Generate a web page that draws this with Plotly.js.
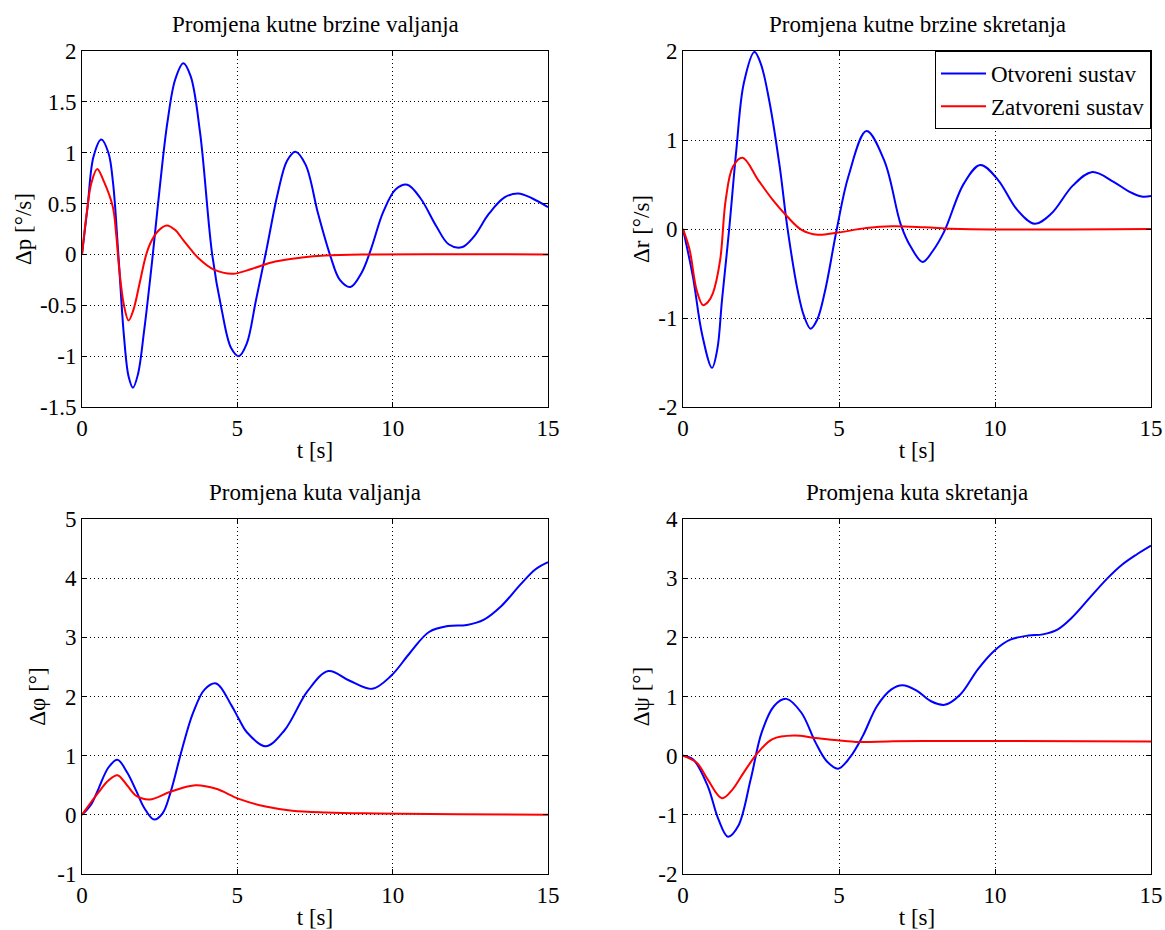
<!DOCTYPE html>
<html>
<head>
<meta charset="utf-8">
<script src="https://cdn.plot.ly/plotly-3.0.1.min.js"></script>
<style>html,body{margin:0;padding:0;background:#fff}#chart{width:1165px;height:930px}</style>
</head>
<body>
<div id="chart"></div>
<script>
// Top-left: Δp (roll rate)
const t_p_open = [0,0.18,0.37,0.62,0.85,1.0,1.17,1.35,1.5,1.64,1.8,2.0,2.28,2.5,2.75,3.0,3.26,3.5,3.8,4.19,4.5,4.8,5.05,5.3,5.6,5.94,6.3,6.6,6.87,7.2,7.6,8.0,8.3,8.64,9.0,9.3,9.7,10.1,10.47,10.9,11.4,11.8,12.22,12.6,13.1,13.6,14.04,14.5,15];
const p_open   = [0,0.47,0.96,1.13,1.0,0.7,0.0,-0.8,-1.2,-1.31,-1.18,-0.75,0.0,0.65,1.3,1.72,1.88,1.75,1.2,0.0,-0.55,-0.92,-1.0,-0.88,-0.45,0.05,0.6,0.92,1.01,0.88,0.4,-0.02,-0.25,-0.32,-0.18,0.05,0.42,0.64,0.685,0.55,0.28,0.1,0.07,0.17,0.4,0.56,0.6,0.55,0.465];
const t_p_closed = [0,0.15,0.3,0.49,0.7,0.99,1.1,1.2,1.35,1.5,1.65,1.85,2.05,2.2,2.45,2.73,3.0,3.26,3.5,3.76,4.25,4.86,5.48,6.22,7.08,7.82,9,15];
const p_closed   = [0,0.4,0.7,0.84,0.72,0.47,0.2,-0.15,-0.5,-0.65,-0.55,-0.29,-0.02,0.11,0.23,0.285,0.24,0.14,0.05,-0.04,-0.15,-0.19,-0.14,-0.07,-0.03,-0.01,0,0];

// Top-right: Δr (yaw rate)
const t_r_open = [0,0.32,0.61,0.93,1.1,1.25,1.48,1.71,1.95,2.29,2.5,2.76,3.1,3.34,3.68,3.88,4.09,4.3,4.55,4.93,5.3,5.88,6.46,6.98,7.3,7.68,8.0,8.37,9.0,9.53,10.1,10.7,11.27,11.8,12.5,13.12,13.8,14.3,14.7,15];
const r_open   = [0,-0.54,-1.18,-1.56,-1.35,-0.8,0.0,0.89,1.64,1.99,1.85,1.45,0.7,0.03,-0.7,-0.98,-1.12,-1.02,-0.7,0.0,0.59,1.1,0.76,0.05,-0.2,-0.37,-0.25,-0.03,0.51,0.72,0.55,0.22,0.06,0.17,0.49,0.64,0.53,0.42,0.365,0.37];
const t_r_closed = [0,0.21,0.44,0.64,0.8,0.96,1.19,1.37,1.6,1.91,2.41,2.87,3.34,3.8,4.32,4.96,5.88,6.7,7.74,8.9,15];
const r_closed   = [0,-0.23,-0.69,-0.855,-0.82,-0.72,-0.35,0.33,0.7,0.8,0.55,0.33,0.14,-0.01,-0.065,-0.04,0.01,0.03,0.02,0.0,0];

// Bottom-left: Δφ (roll angle)
const t_phi_open = [0,0.3,0.53,0.85,1.14,1.45,1.75,2.0,2.32,2.6,2.85,3.22,3.58,3.95,4.32,4.81,5.05,5.3,5.91,6.52,7.26,7.93,8.6,9.34,9.95,10.56,11.17,11.78,12.39,12.94,13.5,14.11,14.6,15];
const phi_open   = [0,0.18,0.44,0.8,0.93,0.72,0.4,0.12,-0.08,0.03,0.38,1.11,1.73,2.12,2.22,1.85,1.62,1.4,1.16,1.43,2.09,2.43,2.27,2.13,2.35,2.74,3.09,3.19,3.21,3.3,3.53,3.89,4.15,4.27];
const t_phi_closed = [0,0.53,0.85,1.14,1.45,1.75,2.18,2.85,3.65,4.32,5.05,5.91,6.77,7.87,9.09,10.3,12.1,15];
const phi_closed   = [0,0.38,0.58,0.67,0.5,0.32,0.26,0.39,0.5,0.44,0.27,0.14,0.07,0.04,0.025,0.02,0.01,0];

// Bottom-right: Δψ (yaw angle)
const t_psi_open = [0,0.32,0.79,1.13,1.44,1.77,2.17,2.52,2.92,3.31,3.79,4.25,4.6,4.97,5.35,5.76,6.22,6.68,7.03,7.49,7.95,8.39,8.88,9.45,9.97,10.49,11.07,11.53,12.0,12.46,13.04,13.61,14.08,14.54,15];
const psi_open   = [0,-0.06,-0.51,-1.07,-1.37,-1.19,-0.4,0.39,0.84,0.96,0.73,0.22,-0.09,-0.22,-0.03,0.33,0.84,1.12,1.19,1.1,0.92,0.86,1.03,1.46,1.77,1.96,2.03,2.05,2.13,2.33,2.67,3.0,3.23,3.4,3.55];
const t_psi_closed = [0,0.44,0.79,1.25,1.59,1.94,2.4,2.87,3.56,4.25,4.95,5.64,6.56,7.72,10.03,15];
const psi_closed   = [0,-0.12,-0.4,-0.72,-0.57,-0.29,0.05,0.28,0.34,0.3,0.26,0.23,0.24,0.25,0.25,0.24];

const seriesNames = ['Otvoreni sustav','Zatvoreni sustav'];
const subplotTitles = ['Promjena kutne brzine valjanja','Promjena kutne brzine skretanja','Promjena kuta valjanja','Promjena kuta skretanja'];
const yTitles = ['Δp [°/s]','Δr [°/s]','Δφ [°]','Δψ [°]'];
const xTitle = 't [s]';
const xTicks = [0,5,10,15];
const yTicksP = [-1.5,-1,-0.5,0,0.5,1,1.5,2];
const yTicksR = [-2,-1,0,1,2];
const yTicksPhi = [-1,0,1,2,3,4,5];
const yTicksPsi = [-2,-1,0,1,2,3,4];

const FONT = 'Liberation Serif';
const BLUE = '#0000ff', RED = '#ff0000';

function tr(x, y, name, color, xa, ya, show) {
  return {x: x, y: y, name: name, type: 'scatter', mode: 'lines',
    line: {color: color, width: 2, shape: 'spline', smoothing: 1},
    xaxis: xa, yaxis: ya, showlegend: show, hoverinfo: 'skip'};
}
const data = [
  tr(t_p_open, p_open, seriesNames[0], BLUE, 'x', 'y', false),
  tr(t_p_closed, p_closed, seriesNames[1], RED, 'x', 'y', false),
  tr(t_r_open, r_open, seriesNames[0], BLUE, 'x2', 'y2', true),
  tr(t_r_closed, r_closed, seriesNames[1], RED, 'x2', 'y2', true),
  tr(t_phi_open, phi_open, seriesNames[0], BLUE, 'x3', 'y3', false),
  tr(t_phi_closed, phi_closed, seriesNames[1], RED, 'x3', 'y3', false),
  tr(t_psi_open, psi_open, seriesNames[0], BLUE, 'x4', 'y4', false),
  tr(t_psi_closed, psi_closed, seriesNames[1], RED, 'x4', 'y4', false)
];

const W = 1165, H = 930;
const colX = [[82, 548], [683, 1151]];
const rowY = [[51, 407], [519, 874]];
const fmt = v => String(v);
const tf = {family: FONT, size: 23, color: '#000'};

function xax(col, anchor) {
  return {domain: [colX[col][0]/W, colX[col][1]/W], anchor: anchor, range: [0, 15],
    tickvals: xTicks, ticktext: xTicks.map(fmt),
    showline: true, linecolor: '#000', linewidth: 1, mirror: 'ticks',
    ticks: 'inside', ticklen: 5, tickcolor: '#000',
    showgrid: true, gridcolor: '#000', griddash: '1px,3px', gridwidth: 1, zeroline: false,
    tickfont: tf, title: {text: xTitle, font: tf, standoff: 2}};
}
function yax(row, anchor, ticks, rng, title, so) {
  return {domain: [1 - rowY[row][1]/H, 1 - rowY[row][0]/H], anchor: anchor, range: rng,
    tickvals: ticks, ticktext: ticks.map(fmt),
    showline: true, linecolor: '#000', linewidth: 1, mirror: 'ticks',
    ticks: 'inside', ticklen: 5, tickcolor: '#000',
    showgrid: true, gridcolor: '#000', griddash: '1px,3px', gridwidth: 1, zeroline: false,
    tickfont: tf, title: {text: title, font: tf, standoff: so}};
}

const annotations = [];
const pos = [[0,0],[1,0],[0,1],[1,1]];
pos.forEach((p, i) => {
  annotations.push({xref: 'paper', yref: 'paper',
    x: (colX[p[0]][0] + colX[p[0]][1]) / 2 / W, y: 1 - rowY[p[1]][0] / H,
    xanchor: 'center', yanchor: 'bottom', yshift: 12, showarrow: false,
    text: subplotTitles[i], font: tf});
});

const layout = {
  width: W, height: H, margin: {l: 0, r: 0, t: 0, b: 0},
  paper_bgcolor: '#fff', plot_bgcolor: '#fff',
  font: tf,
  xaxis: xax(0, 'y'), yaxis: yax(0, 'x', yTicksP, [-1.5, 2], yTitles[0], 1),
  xaxis2: xax(1, 'y2'), yaxis2: yax(0, 'x2', yTicksR, [-2, 2], yTitles[1], 2),
  xaxis3: xax(0, 'y3'), yaxis3: yax(1, 'x3', yTicksPhi, [-1, 5], yTitles[2], 5),
  xaxis4: xax(1, 'y4'), yaxis4: yax(1, 'x4', yTicksPsi, [-2, 4], yTitles[3], 2),
  legend: {x: 1151/W, xanchor: 'right', y: 1 - 51/H, yanchor: 'top',
    bordercolor: '#000', borderwidth: 1, bgcolor: '#fff', itemwidth: 45,
    font: tf, tracegroupgap: 0},
  annotations: annotations
};

Plotly.newPlot('chart', data, layout, {displayModeBar: false, staticPlot: true});
</script>
</body>
</html>
